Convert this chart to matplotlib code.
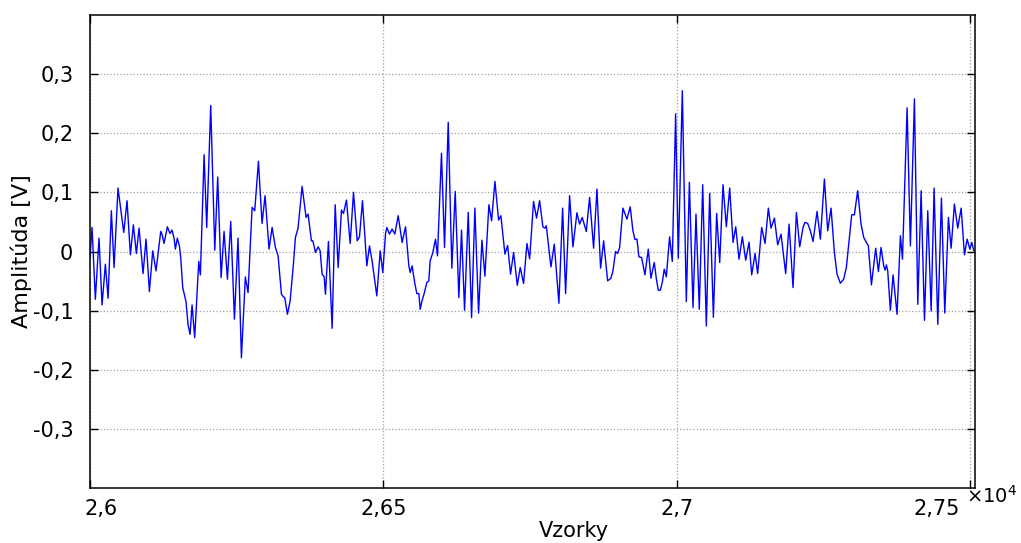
import numpy as np
import matplotlib
matplotlib.use('Agg')
import matplotlib.pyplot as plt
from matplotlib.transforms import ScaledTranslation

# signal, sample index relative to START
START = 26000
sample_offset = [
    0, 3.5, 9.1, 15.4, 20.5, 26.2, 30.8, 36.4, 41.0, 47.7, 57.5, 63.1, 68.8, 73.9,
    79.0, 83.6, 90.4, 95.5, 101.2, 106.9, 112.5, 120.5,
    122.7, 126.1, 131.9, 136.3, 139.8, 143.2, 145.5, 148.8, 152.3, 154.6, 158.0,
    161.3, 163.6, 167.1, 170.5, 173.9, 178.4, 185.3, 188.1, 194.4, 198.9, 205.7,
    212.6, 217.6, 223.4, 228.4, 234.2, 239.8, 246.1,
    252.2, 258.0, 264.7, 269.3, 276.2, 280.7, 287.0, 293.2, 298.3, 305.1, 310.3,
    315.9, 320.5, 326.2, 329.5, 331.8, 336.4, 341.0, 346.6, 350.0, 354.5, 361.4,
    368.2, 371.6, 377.3,
    379.7, 384.2, 388.7, 392.2, 395.5, 399.0, 401.2, 406.3, 412.6, 417.8, 422.8,
    428.5, 431.9, 437.0, 443.3, 449.0, 455.3, 459.2, 464.3, 471.7, 476.2, 480.8,
    488.7, 494.5, 498.9, 503.5,
    505.8, 510.3, 514.8, 519.4, 525.1, 531.9, 537.6, 543.3, 545.6, 548.9, 553.5,
    556.9, 560.4, 562.6, 566.0, 569.4, 573.9, 577.3, 579.6, 584.2, 588.7, 592.1,
    598.9, 604.1, 610.4, 616.6, 622.3, 628.5,
    633.1, 638.2, 644.5, 650.2, 655.8, 662.1, 667.8, 672.9, 679.7, 684.3, 690.0,
    696.2, 700.2, 707.0, 711.6, 716.6, 721.8, 728.1, 733.1, 738.8, 744.5, 749.1,
    755.8, 760.9, 766.1, 771.7, 775.2, 777.5, 785.4, 791.1, 799.0, 805.3, 810.4,
    817.2, 822.9, 829.7, 834.2, 838.8, 845.6, 851.3, 858.1, 863.8, 870.0, 875.2,
    882.0,
    887.6, 891.1, 895.5, 899.0, 902.4, 908.1, 914.9, 920.5, 925.1, 928.6, 932.0,
    935.3, 939.9, 945.6, 951.3, 955.8, 961.5, 964.9, 968.3, 971.8, 975.1, 978.5,
    982.0, 987.6, 992.2, 997.9, 1002.4,
    1009.3, 1016.1, 1021.3, 1027.5, 1032.6, 1038.2, 1044.0, 1050.2, 1055.9, 1062.2,
    1067.8, 1073.0, 1078.6, 1084.3, 1090.0, 1095.7, 1100.3, 1105.9, 1111.6, 1117.3,
    1123.0, 1127.5, 1133.2,
    1137.7, 1144.5, 1150.2, 1155.9, 1160.4, 1166.2, 1171.8, 1177.5, 1185.4, 1191.2,
    1197.9, 1203.7, 1209.3, 1215.0, 1218.3, 1222.9, 1227.5, 1232.0, 1238.9, 1244.5,
    1251.4, 1257.0,
    1262.7, 1268.4, 1272.9, 1278.6, 1284.2, 1288.8, 1293.4, 1297.9, 1302.5, 1308.1,
    1313.8, 1318.4, 1322.9, 1326.3, 1331.5, 1338.8, 1343.4, 1347.9, 1352.5, 1354.8,
    1357.0, 1359.3, 1363.8, 1368.4, 1375.2, 1380.9,
    1384.4, 1392.3, 1397.9, 1404.8, 1410.5, 1416.2, 1421.9, 1427.5, 1433.3, 1438.3,
    1444.6, 1450.8, 1456.5, 1462.7, 1467.3, 1472.9, 1478.6, 1484.4, 1490.0, 1494.6,
    1499.2, 1502.5, 1506.0, 1509.5,
]
amplitude = [
    -0.010, 0.0407, -0.0808, 0.0226, -0.0904, -0.0215, -0.0791, 0.0689, -0.0271,
    0.1074, 0.0322, 0.0859, -0.0056, 0.0452, -0.0034, 0.0395, -0.0373, 0.0209,
    -0.0678, 0.0011, -0.0328, 0.0339,
    0.0294, 0.0136, 0.0418, 0.0305, 0.0362, 0.0226, 0.0040, 0.0226, 0.0096, -0.0102,
    -0.0610, -0.0751, -0.0847, -0.1243, -0.1401, -0.0904, -0.1458, -0.0169, -0.0395,
    0.1638, 0.0407, 0.2469, 0.0023, 0.1260, -0.0441, 0.0339, -0.0469, 0.0508, -0.1144,
    0.0226, -0.1797, -0.0429, -0.0695, 0.0746, 0.0689, 0.1525, 0.0475, 0.0944, 0.0040,
    0.0407, 0.0068, -0.0073, -0.0723, -0.0767, -0.0780, -0.1062, -0.0836, -0.0215,
    0.0237, 0.0395, 0.1102, 0.0576, 0.0633, 0.0181,
    0.0181, -0.0017, 0.0079, 0.0011, -0.0384, -0.0429, -0.0723, 0.0169, -0.1299,
    0.0791, -0.0271, 0.0701, 0.0644, 0.0870, 0.0136, 0.1001, 0.0181, 0.0249, 0.0859,
    -0.0243, 0.0096, -0.0169, -0.0751, 0.0011, -0.0356, 0.0294,
    0.0407, 0.0294, 0.0379, 0.0294, 0.0605, 0.0153, 0.0418, -0.0243, -0.0356, -0.0243,
    -0.0542, -0.0712, -0.0712, -0.0977, -0.0825, -0.0712, -0.0525, -0.0497, -0.0158,
    -0.0017, 0.0209, -0.0073, 0.1661, 0.0068, 0.2186, -0.0283, 0.1017, -0.0780,
    0.0362, -0.0994, 0.0661, -0.1119, 0.0735, -0.1040, 0.0192, -0.0418, 0.0791, 0.0520,
    0.1186, 0.0531, 0.0605, -0.0045, 0.0102, -0.0384, -0.0017, -0.0571, -0.0271,
    -0.0542, 0.0136, -0.0124,
    0.0847, 0.0565, 0.0859, 0.0418, 0.0395, 0.0435, -0.0260, 0.0124, -0.0876, 0.0734,
    -0.0712, 0.0944, 0.0079, 0.0655, 0.0463, 0.0576, 0.0339, 0.0915, 0.0056, 0.1056,
    -0.0282, 0.0181, -0.0497,
    -0.0452, -0.0328, 0.0, -0.0034, 0.0068, 0.0734, 0.0548, 0.0757, 0.0350, 0.0203,
    0.0209, -0.0090, -0.0102, -0.0395, 0.0040, -0.0452, -0.0186, -0.0452, -0.0655,
    -0.0655, -0.0525, -0.0299, -0.0429, 0.0249, -0.0169, 0.2328, -0.0113,
    0.2720, -0.0847, 0.1169, -0.0949, 0.0633, -0.0977, 0.1130, -0.1260, 0.0983,
    -0.1113, 0.0644, -0.0186, 0.1130, 0.0418, 0.1073, 0.0153, 0.0418, -0.0130, 0.0249,
    -0.0147, 0.0158, -0.0395, -0.0034,
    -0.0373, 0.0407, 0.0136, 0.0734, 0.0395, 0.0565, 0.0113, 0.0294, -0.0373, 0.0463,
    -0.0610, 0.0661, 0.0079, 0.0407, 0.0492, 0.0475, 0.0350, 0.0169, 0.0678, 0.0209,
    0.1226, 0.0350,
    0.0734, -0.0017, -0.0384, -0.0537, -0.0469, -0.0271, 0.0181, 0.0621, 0.0621,
    0.1028, 0.0463, 0.0237, 0.0153, 0.0096, -0.0565, 0.0056, -0.0339, 0.0068, -0.0243,
    -0.0316, -0.0226, -0.0328, -0.0994, -0.0395, -0.1062, 0.0266,
    -0.0130, 0.2429, 0.0096, 0.2582, -0.0893, 0.1028, -0.1164, 0.0689, -0.1006, 0.1073,
    -0.1232, 0.0904, -0.1040, 0.0576, 0.0056, 0.0802, 0.0395, 0.0734, -0.0056, 0.0209,
    0.0040, 0.0153, 0.0011, 0.0,
]

x_ticks = [26000, 26500, 27000, 27500]
x_labels = ['2,6', '2,65', '2,7', '2,75']
y_ticks = [-0.3, -0.2, -0.1, 0, 0.1, 0.2, 0.3]
y_labels = ['-0,3', '-0,2', '-0,1', '0', '0,1', '0,2', '0,3']

samples = START + np.array(sample_offset)

fig = plt.figure(figsize=(10.21, 5.43), dpi=100)
ax = fig.add_axes([90 / 1021, 1 - 488 / 543, 885 / 1021, 473 / 543])

ax.plot(samples, amplitude, color='#0000ff', linewidth=1.0)

ax.set_xlim(26000, 27508)
ax.set_ylim(-0.4, 0.4)
ax.set_xticks(x_ticks)
ax.set_xticklabels(x_labels)
ax.set_yticks(y_ticks)
ax.set_yticklabels(y_labels)

ax.grid(True, linestyle=':', color='#a0a0a0', linewidth=0.9)
ax.tick_params(direction='in', length=6, width=1, labelsize=15,
               top=True, right=True)
ax.tick_params(axis='x', pad=8)
ax.tick_params(axis='y', pad=12)
for s in ax.spines.values():
    s.set_linewidth(1.1)

# edge tick labels sit a bit inwards, as in the original
xl = ax.get_xticklabels()
xl[0].set_transform(xl[0].get_transform() + ScaledTranslation(8 / 72, 0, fig.dpi_scale_trans))
xl[-1].set_transform(xl[-1].get_transform() + ScaledTranslation(-24 / 72, 0, fig.dpi_scale_trans))

ax.set_xlabel('Vzorky', fontsize=15)
ax.xaxis.set_label_coords(0.547, -0.07)
ax.set_ylabel('Amplitúda [V]', fontsize=16)
ax.yaxis.set_label_coords(-0.066, 0.5)

fig.text(966 / 1021, 1 - 503 / 543, '×10$^{4}$', fontsize=14)

fig.savefig('out.png', dpi=100)
